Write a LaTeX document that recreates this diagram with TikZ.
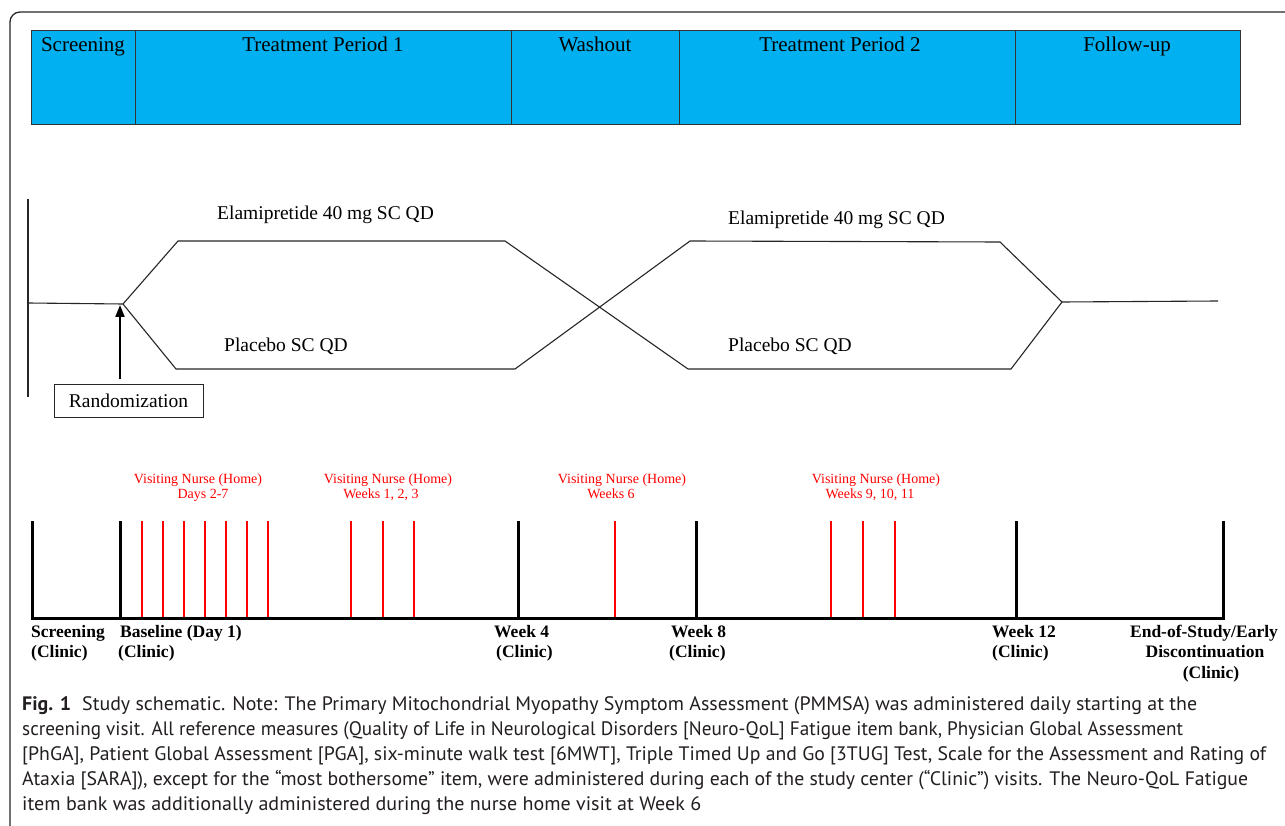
\documentclass[tikz,border=0pt]{standalone}
\usepackage{fontspec}
\setmainfont{Liberation Serif}
\newfontfamily\capfont{PT Sans}
\usetikzlibrary{arrows.meta}
\definecolor{hdrblue}{HTML}{00B0F0}
\definecolor{nursered}{HTML}{FF0000}
\definecolor{capgray}{HTML}{231F20}
\newlength\capnat
\newcommand\capstyle{\capfont\fontsize{19.5}{21}\selectfont\color{capgray}}
\newcommand\capline[2]{%
  \settowidth\capnat{\capstyle #2}%
  \pgfmathsetmacro\capratio{#1/\capnat}%
  \scalebox{\capratio}[1]{\capstyle #2}}
\begin{document}
\begin{tikzpicture}[x=1pt,y=-1pt,
  hdr/.style={draw=black!80, fill=hdrblue, line width=0.9pt},
  hdrtxt/.style={font=\fontsize{21}{24}\selectfont, anchor=base, inner sep=0pt},
  arm/.style={draw=black!85, line width=1.1pt},
  armtxt/.style={font=\fontsize{19.5}{23}\selectfont, anchor=base west, inner sep=0pt},
  blk/.style={line width=3pt, draw=black},
  redtick/.style={line width=2.8pt, draw=nursered},
  nursetxt/.style={text=nursered, font=\fontsize{14}{17}\selectfont, anchor=base, inner sep=0pt},
  vistxt/.style={font=\bfseries\fontsize{17.5}{20.5}\selectfont, anchor=base west, inner sep=0pt},
  vistxtc/.style={font=\bfseries\fontsize{17.5}{20.5}\selectfont, anchor=base, inner sep=0pt},
  capnode/.style={anchor=base west, inner sep=0pt}]
\useasboundingbox (0,0) rectangle (1285,826);
\fill[white] (0,0) rectangle (1285,826);
% outer frame (cropped)
\draw[line width=1.3pt, black!85, rounded corners=10pt] (10,840) -- (10,12) -- (1300,12);
% header
\foreach \a/\b in {31/135,135/511,511/679,679/1015,1015/1240}
  \draw[hdr] (\a,30) rectangle (\b,124);
\node[hdrtxt] (hscr) at (83,52) {Screening};
\node[hdrtxt] (htp1) at (323,52) {Treatment Period 1};
\node[hdrtxt] (hwash) at (595,52) {Washout};
\node[hdrtxt] (htp2) at (840,52) {Treatment Period 2};
\node[hdrtxt] (hfol) at (1127,52) {Follow-up};
% arms
\coordinate (vtop) at (28,199); \coordinate (vbot) at (28,397);
\coordinate (start) at (28,303); \coordinate (rand) at (123,304);
\coordinate (e1a) at (178,241); \coordinate (e1b) at (505,241);
\coordinate (p1a) at (176,369); \coordinate (p1b) at (515,369);
\coordinate (e2a) at (690,241); \coordinate (e2b) at (1000,242);
\coordinate (p2a) at (688,369); \coordinate (p2b) at (1011,369);
\coordinate (merge) at (1062,302); \coordinate (finish) at (1218,301);
\draw[arm] (vtop) -- (vbot);
\draw[arm] (start) -- (rand) -- (e1a) -- (e1b) -- (p2a) -- (p2b) -- (merge) -- (finish);
\draw[arm] (rand) -- (p1a) -- (p1b) -- (e2a) -- (e2b) -- (merge);
\node[armtxt] (elam1) at (217,220) {Elamipretide 40 mg SC QD};
\node[armtxt] (elam2) at (728,225) {Elamipretide 40 mg SC QD};
\node[armtxt] (plac1) at (224,352) {Placebo SC QD};
\node[armtxt] (plac2) at (728,351) {Placebo SC QD};
% randomization
\node[draw=black!85, line width=1pt, minimum width=149pt, minimum height=33pt, inner sep=0pt,
      font=\fontsize{19.5}{23}\selectfont] (randbox) at (128.5,400.5) {\raisebox{-2pt}{Randomization}};
\coordinate (rtail) at (120,379); \coordinate (rhead) at (120,305);
\draw[line width=2pt, -{Triangle[length=12pt,width=9pt]}] (rtail) -- (rhead);
% timeline
\coordinate (tl0) at (31,618); \coordinate (tl1) at (1224.5,618);
\draw[blk] (tl0) -- (tl1);
\foreach \x in {32,120,518,696,1016,1223}
  \draw[blk] (\x,521) -- (\x,618);
\foreach \x in {142,163,184,205,226,247,268,351,383,414,615,831,863,895}
  \draw[redtick] (\x,521) -- (\x,616.5);
% nurse labels
\node[nursetxt] (n1a) at (198,483) {Visiting Nurse (Home)};
\node[nursetxt] (n1b) at (203,498) {Days 2-7};
\node[nursetxt] (n2a) at (388,483) {Visiting Nurse (Home)};
\node[nursetxt] (n2b) at (381,498) {Weeks 1, 2, 3};
\node[nursetxt] (n3a) at (622,483) {Visiting Nurse (Home)};
\node[nursetxt] (n3b) at (611,498) {Weeks 6};
\node[nursetxt] (n4a) at (876,483) {Visiting Nurse (Home)};
\node[nursetxt] (n4b) at (870,498) {Weeks 9, 10, 11};
% visit labels
\node[vistxt] (v0a) at (31,637) {Screening};
\node[vistxt] (v0b) at (31,657) {(Clinic)};
\node[vistxt] (v1a) at (120,637) {Baseline (Day 1)};
\node[vistxt] (v1b) at (118,657) {(Clinic)};
\node[vistxt] (v2a) at (494,637) {Week 4};
\node[vistxt] (v2b) at (496,657) {(Clinic)};
\node[vistxt] (v3a) at (671,637) {Week 8};
\node[vistxt] (v3b) at (669,657) {(Clinic)};
\node[vistxt] (v4a) at (992,637) {Week 12};
\node[vistxt] (v4b) at (992,657) {(Clinic)};
\node[vistxtc] (v5a) at (1204,637) {End-of-Study/Early};
\node[vistxtc] (v5b) at (1205,657) {Discontinuation};
\node[vistxtc] (v5c) at (1211,678) {(Clinic)};
% caption
\node[capnode] (cap1) at (22,710) {\capline{1175}{\textbf{Fig. 1}\hspace{0.55em}Study schematic. Note: The Primary Mitochondrial Myopathy Symptom Assessment (PMMSA) was administered daily starting at the}};
\node[capnode] (cap2) at (22,735) {\capline{1161}{screening visit. All reference measures (Quality of Life in Neurological Disorders [Neuro-QoL] Fatigue item bank, Physician Global Assessment}};
\node[capnode] (cap3) at (22,760) {\capline{1244}{[PhGA], Patient Global Assessment [PGA], six-minute walk test [6MWT], Triple Timed Up and Go [3TUG] Test, Scale for the Assessment and Rating of}};
\node[capnode] (cap4) at (22,785) {\capline{1226}{Ataxia [SARA]), except for the “most bothersome” item, were administered during each of the study center (“Clinic”) visits. The Neuro-QoL Fatigue}};
\node[capnode] (cap5) at (22,810) {\capline{679}{item bank was additionally administered during the nurse home visit at Week 6}};
\end{tikzpicture}
\end{document}
